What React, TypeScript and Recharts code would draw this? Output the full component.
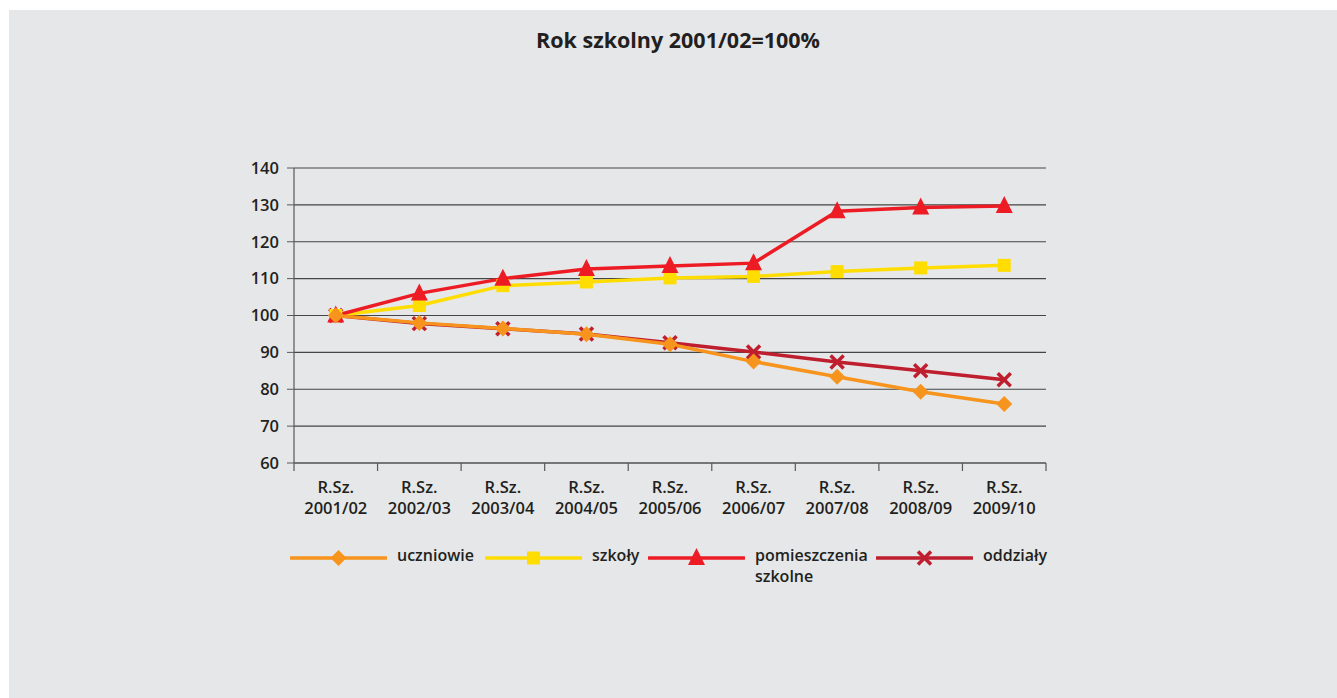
import { LineChart, Line, XAxis, YAxis, CartesianGrid } from 'recharts';

// school years on the category axis, indices relative to 2001/02 = 100
const YEARS = ['2001/02', '2002/03', '2003/04', '2004/05', '2005/06', '2006/07', '2007/08', '2008/09', '2009/10'];
const UCZNIOWIE = [100, 98.0, 96.5, 94.9, 92.2, 87.5, 83.4, 79.3, 76.0];
const SZKOLY = [100, 102.7, 108.1, 109.1, 110.2, 110.6, 111.9, 112.9, 113.6];
const POMIESZCZENIA = [100, 106.0, 110.0, 112.6, 113.4, 114.2, 128.3, 129.3, 129.7];
const ODDZIALY = [100, 97.8, 96.4, 95.0, 92.6, 90.1, 87.4, 85.0, 82.6];
const Y_TICKS = [60, 70, 80, 90, 100, 110, 120, 130, 140];

const FONT = '"Open Sans", "Noto Sans", sans-serif';
const TEXT = '#231f20';
const AXIS = '#58595b';
const GRID = '#454545';
const BG = '#e6e7e8';

const W = 1328;
const H = 688;
const PLOT_W = 752;
const BAND = PLOT_W / YEARS.length;

const data = YEARS.map((year, i) => ({
  year,
  uczniowie: UCZNIOWIE[i],
  szkoly: SZKOLY[i],
  pomieszczenia: POMIESZCZENIA[i],
  oddzialy: ODDZIALY[i],
}));

type Shape = 'diamond' | 'square' | 'triangle' | 'cross';

function Marker({ shape, cx, cy, color }: { shape: Shape; cx: number; cy: number; color: string }) {
  if (shape === 'diamond') {
    return <polygon points={`${cx},${cy - 8} ${cx + 8},${cy} ${cx},${cy + 8} ${cx - 8},${cy}`} fill={color} />;
  }
  if (shape === 'square') {
    return <rect x={cx - 6.5} y={cy - 6.5} width={13} height={13} fill={color} />;
  }
  if (shape === 'triangle') {
    return <polygon points={`${cx},${cy - 10} ${cx + 8.5},${cy + 7} ${cx - 8.5},${cy + 7}`} fill={color} />;
  }
  return (
    <g stroke={color} strokeWidth={3.5}>
      <line x1={cx - 6.5} y1={cy - 6.5} x2={cx + 6.5} y2={cy + 6.5} />
      <line x1={cx - 6.5} y1={cy + 6.5} x2={cx + 6.5} y2={cy - 6.5} />
    </g>
  );
}

const SERIES: { key: string; name: string[]; color: string; shape: Shape; width: number; textW: number }[] = [
  { key: 'uczniowie', name: ['uczniowie'], color: '#f7941d', shape: 'diamond', width: 3.5, textW: 88 },
  { key: 'szkoly', name: ['szkoły'], color: '#ffdd00', shape: 'square', width: 3.5, textW: 56 },
  { key: 'pomieszczenia', name: ['pomieszczenia', 'szkolne'], color: '#ed1c24', shape: 'triangle', width: 3.5, textW: 121 },
  { key: 'oddzialy', name: ['oddziały'], color: '#be1e2d', shape: 'cross', width: 3.5, textW: 80 },
];

// drawing order: oddziały at the bottom, uczniowie on top
const DRAW_ORDER = ['oddzialy', 'szkoly', 'pomieszczenia', 'uczniowie'];

function CategoryTick(props: any) {
  const { x, y, payload, index } = props;
  const half = BAND / 2;
  return (
    <g>
      <line x1={x - half} x2={x - half} y1={y} y2={y + 8} stroke={AXIS} strokeWidth={1.2} />
      {index === YEARS.length - 1 && (
        <line x1={x + half} x2={x + half} y1={y} y2={y + 8} stroke={AXIS} strokeWidth={1.2} />
      )}
      <text textAnchor="middle" fontFamily={FONT} fontSize={16.5} fontWeight={600} fill={TEXT}>
        <tspan x={x} y={y + 30}>R.Sz.</tspan>
        <tspan x={x} y={y + 51}>{payload.value}</tspan>
      </text>
    </g>
  );
}

function LegendRow() {
  return (
    <div style={{ position: 'absolute', left: 281, top: 537, display: 'flex', alignItems: 'flex-start' }}>
      {SERIES.map((s) => (
        <div key={s.key} style={{ display: 'flex', alignItems: 'flex-start' }}>
          <svg width={97} height={22} style={{ display: 'block' }}>
            <line x1={1} x2={96} y1={11} y2={11} stroke={s.color} strokeWidth={s.width} strokeLinecap="round" />
            <Marker shape={s.shape} cx={48.5} cy={11} color={s.color} />
          </svg>
          <div
            style={{
              width: s.textW,
              paddingLeft: 10,
              fontFamily: FONT,
              fontSize: 16,
              fontWeight: 600,
              color: TEXT,
              lineHeight: '21px',
              marginTop: -2,
            }}
          >
            {s.name.map((n) => (
              <div key={n}>{n}</div>
            ))}
          </div>
        </div>
      ))}
    </div>
  );
}

export default function App() {
  return (
    <div style={{ position: 'absolute', left: 9, top: 10, width: W, height: H, background: BG }}>
      <div
        style={{
          position: 'absolute',
          left: 0,
          top: 17,
          width: 1338,
          textAlign: 'center',
          fontFamily: FONT,
          fontSize: 21.5,
          fontWeight: 700,
          lineHeight: '26px',
          color: TEXT,
        }}
      >
        Rok szkolny 2001/02=100%
      </div>
      <LineChart width={W} height={H} data={data} margin={{ top: 158, right: 291, bottom: 175, left: 225 }}>
        <CartesianGrid vertical={false} stroke={GRID} strokeWidth={1.2} />
        <XAxis
          dataKey="year"
          height={60}
          interval={0}
          padding={{ left: BAND / 2, right: BAND / 2 }}
          axisLine={{ stroke: AXIS, strokeWidth: 1.2 }}
          tickLine={false}
          tickSize={0}
          tickMargin={0}
          tick={<CategoryTick />}
        />
        <YAxis
          width={60}
          domain={[60, 140]}
          ticks={Y_TICKS}
          interval={0}
          axisLine={{ stroke: AXIS, strokeWidth: 1.2 }}
          tickLine={{ stroke: AXIS }}
          tickSize={7}
          tickMargin={8}
          tick={{ fontFamily: FONT, fontSize: 16.5, fontWeight: 600, fill: TEXT }}
        />
        {DRAW_ORDER.map((k) => {
          const s = SERIES.find((v) => v.key === k)!;
          return (
            <Line
              key={s.key}
              type="linear"
              dataKey={s.key}
              stroke={s.color}
              strokeWidth={s.width}
              isAnimationActive={false}
              dot={(p: any) => <Marker key={`${s.key}-${p.index}`} shape={s.shape} cx={p.cx} cy={p.cy} color={s.color} />}
              activeDot={false}
            />
          );
        })}
      </LineChart>
      <LegendRow />
    </div>
  );
}
